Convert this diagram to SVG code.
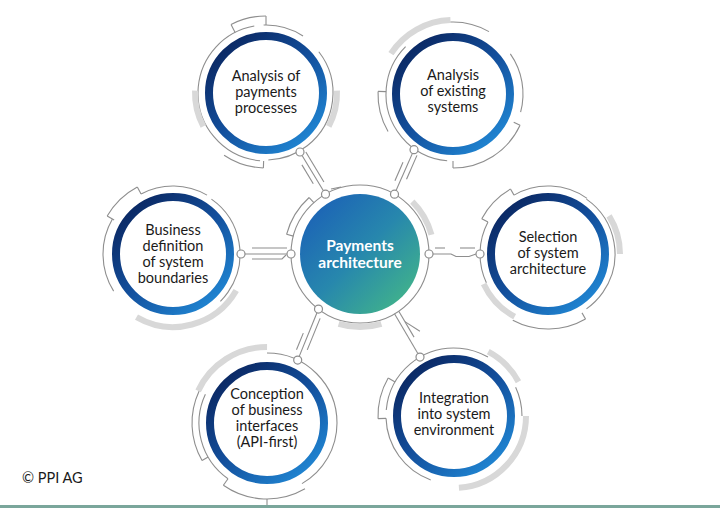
<svg xmlns="http://www.w3.org/2000/svg" width="720" height="508" viewBox="0 0 720 508">
<defs>
<linearGradient id="rg" x1="0.15" y1="0.1" x2="0.85" y2="0.9">
<stop offset="0" stop-color="#0b2a66"/>
<stop offset="0.5" stop-color="#134f9c"/>
<stop offset="1" stop-color="#1f82cf"/>
</linearGradient>
<linearGradient id="cg" x1="0.1" y1="0.1" x2="0.9" y2="0.9">
<stop offset="0" stop-color="#1c63b6"/>
<stop offset="0.5" stop-color="#2787ad"/>
<stop offset="1" stop-color="#41b38b"/>
</linearGradient>
<style>
.thin{fill:none;stroke:#8e8e8e;stroke-width:1.1}
.thick{fill:none;stroke:#d8d8d8;stroke-width:6}
.ring{fill:#fff;stroke:url(#rg);stroke-width:8}
.dot{fill:#fff;stroke:#8e8e8e;stroke-width:1.2}
.ln{fill:none;stroke:#8e8e8e;stroke-width:1.1}
.lbl{font-family:Lato,"Open Sans","Liberation Sans",sans-serif;font-size:14.5px;fill:#1a1a1a;text-anchor:middle}
.ctr{font-family:Lato,"Open Sans","Liberation Sans",sans-serif;font-size:15.5px;font-weight:bold;fill:#fff;text-anchor:middle}
</style>
</defs>
<rect width="720" height="508" fill="#fff"/>

<g id="center" transform="translate(360 254)">
<circle class="thin" r="69"/>
<circle class="thin" r="76" pathLength="360" stroke-dasharray="33 360" transform="rotate(195)"/>
<line class="thin" x1="69" x2="76" transform="rotate(228)"/>
<line class="thin" x1="69" x2="76" transform="rotate(195)"/>
<circle class="thick" r="74" pathLength="360" stroke-dasharray="30 360" transform="rotate(315)"/>
<circle class="thick" r="73" pathLength="360" stroke-dasharray="34 360" transform="rotate(73)"/>
<circle r="60" fill="url(#cg)"/>
<text class="ctr" y="-3">Payments</text>
<text class="ctr" y="14">architecture</text>
</g>

<g id="node1" transform="translate(266 93)">
<circle class="thin" r="68" pathLength="360" stroke-dasharray="165 360" transform="rotate(95)"/>
<circle class="thin" r="68" pathLength="360" stroke-dasharray="35 360" transform="rotate(268)"/>
<circle class="thin" r="67" pathLength="360" stroke-dasharray="126 360" transform="rotate(322)"/>
<circle class="thin" r="77" pathLength="360" stroke-dasharray="27 360" transform="rotate(243)"/>
<line class="thin" x1="68" x2="77" transform="rotate(243)"/>
<line class="thin" x1="68" x2="77" transform="rotate(270)"/>
<circle class="thin" r="75" pathLength="360" stroke-dasharray="32 360" transform="rotate(92)"/>
<line class="thin" x1="68" x2="75" transform="rotate(92)"/>
<circle class="thick" r="71" pathLength="360" stroke-dasharray="30 360" transform="rotate(152)"/>
<circle class="thick" r="71" pathLength="360" stroke-dasharray="30 360" transform="rotate(358)"/>
<circle class="ring" r="57"/>
<text class="lbl" y="-12">Analysis of</text>
<text class="lbl" y="4">payments</text>
<text class="lbl" y="20">processes</text>
</g>

<g id="node2" transform="translate(453 94)">
<circle class="thick" r="74" pathLength="360" stroke-dasharray="55 360" transform="rotate(213)"/>
<circle class="thin" r="72" pathLength="360" stroke-dasharray="32 360" transform="rotate(268)"/>
<circle class="thin" r="70" pathLength="360" stroke-dasharray="50 360" transform="rotate(325)"/>
<circle class="thin" r="74" pathLength="360" stroke-dasharray="65 360" transform="rotate(25)"/>
<line class="thin" x1="67" x2="74" transform="rotate(25)"/>
<line class="thin" x1="67" x2="74" transform="rotate(90)"/>
<circle class="thin" r="67" pathLength="360" stroke-dasharray="130 360" transform="rotate(95)"/>
<circle class="thin" r="75" pathLength="360" stroke-dasharray="32 360" transform="rotate(150)"/>
<line class="thin" x1="67" x2="75" transform="rotate(182)"/>
<circle class="ring" r="57"/>
<text class="lbl" y="-14">Analysis</text>
<text class="lbl" y="2">of existing</text>
<text class="lbl" y="18">systems</text>
</g>

<g id="node3" transform="translate(173 254)">
<circle class="thin" r="76" pathLength="360" stroke-dasharray="32 360" transform="rotate(210)"/>
<line class="thin" x1="68" x2="76" transform="rotate(210)"/>
<line class="thin" x1="68" x2="76" transform="rotate(242)"/>
<circle class="thin" r="68" pathLength="360" stroke-dasharray="58 360" transform="rotate(242)"/>
<circle class="thin" r="67" pathLength="360" stroke-dasharray="100 360" transform="rotate(305)"/>
<circle class="thin" r="70" pathLength="360" stroke-dasharray="62 360" transform="rotate(148)"/>
<circle class="thick" r="73" pathLength="360" stroke-dasharray="90 360" transform="rotate(30)"/>
<circle class="ring" r="57"/>
<text class="lbl" y="-19">Business</text>
<text class="lbl" y="-3">definition</text>
<text class="lbl" y="13">of system</text>
<text class="lbl" y="29">boundaries</text>
</g>

<g id="node4" transform="translate(548 254)">
<circle class="thin" r="75" pathLength="360" stroke-dasharray="32 360" transform="rotate(208)"/>
<line class="thin" x1="68" x2="75" transform="rotate(208)"/>
<line class="thin" x1="68" x2="75" transform="rotate(240)"/>
<circle class="thin" r="68" pathLength="360" stroke-dasharray="65 360" transform="rotate(240)"/>
<circle class="thin" r="67" pathLength="360" stroke-dasharray="110 360" transform="rotate(305)"/>
<circle class="thick" r="72" pathLength="360" stroke-dasharray="32 360" transform="rotate(328)"/>
<circle class="thick" r="71" pathLength="360" stroke-dasharray="37 360" transform="rotate(118)"/>
<circle class="thin" r="75" pathLength="360" stroke-dasharray="58 360" transform="rotate(60)"/>
<line class="thin" x1="68" x2="75" transform="rotate(60)"/>
<circle class="thin" r="68" pathLength="360" stroke-dasharray="53 360" transform="rotate(155)"/>
<circle class="ring" r="57"/>
<text class="lbl" y="-12">Selection</text>
<text class="lbl" y="4">of system</text>
<text class="lbl" y="20">architecture</text>
</g>

<g id="node5" transform="translate(267 423)">
<circle class="thick" r="76" pathLength="360" stroke-dasharray="65 360" transform="rotate(205)"/>
<circle class="thin" r="70" pathLength="360" stroke-dasharray="150 360" transform="rotate(270)"/>
<circle class="thin" r="76" pathLength="360" stroke-dasharray="65 360" transform="rotate(60)"/>
<line class="thin" x1="68" x2="76" transform="rotate(125)"/>
<line class="thin" x1="76" x2="82" transform="rotate(90)"/>
<circle class="thin" r="75" pathLength="360" stroke-dasharray="55 360" transform="rotate(150)"/>
<line class="thin" x1="68" x2="75" transform="rotate(150)"/>
<circle class="thin" r="68" pathLength="360" stroke-dasharray="80 360" transform="rotate(125)"/>
<circle class="ring" r="57"/>
<text class="lbl" y="-24">Conception</text>
<text class="lbl" y="-8">of business</text>
<text class="lbl" y="8">interfaces</text>
<text class="lbl" y="24">(API-first)</text>
</g>

<g id="node6" transform="translate(454 416)">
<circle class="thin" r="68" pathLength="360" stroke-dasharray="115 360" transform="rotate(185)"/>
<circle class="thick" r="73" pathLength="360" stroke-dasharray="34 360" transform="rotate(298)"/>
<circle class="thin" r="68" pathLength="360" stroke-dasharray="25 360" transform="rotate(335)"/>
<circle class="thick" r="72" pathLength="360" stroke-dasharray="86 360" transform="rotate(0)"/>
<circle class="thin" r="76" pathLength="360" stroke-dasharray="32 360" transform="rotate(178)"/>
<line class="thin" x1="68" x2="76" transform="rotate(178)"/>
<line class="thin" x1="68" x2="76" transform="rotate(210)"/>
<circle class="thin" r="68" pathLength="360" stroke-dasharray="68 360" transform="rotate(110)"/>
<circle class="ring" r="57"/>
<text class="lbl" y="-13">Integration</text>
<text class="lbl" y="3">into system</text>
<text class="lbl" y="19">environment</text>
</g>

<g id="connectors">
<g transform="translate(300 152) rotate(58.9)">
<line class="ln" x1="4" y1="0" x2="45.3" y2="0"/>
<line class="ln" x1="3" y1="-5" x2="38" y2="-5"/>
<line class="ln" x1="12" y1="5" x2="34" y2="5"/>
</g>
<line class="ln" x1="331" y1="189" x2="341" y2="187"/>
<g transform="translate(414 149.7) rotate(113.7)">
<line class="ln" x1="4" y1="0" x2="44.6" y2="0"/>
<line class="ln" x1="4" y1="-5" x2="30" y2="-5"/>
<line class="ln" x1="16" y1="5" x2="36" y2="5"/>
</g>
<g transform="translate(241 254)">
<line class="ln" x1="4" y1="0" x2="46" y2="0"/>
<line class="ln" x1="11" y1="-6" x2="46" y2="-6"/>
<polyline class="ln" points="11,5 41,5 45,1"/>
</g>
<g transform="translate(429 254)">
<polyline class="ln" points="4,0 22,0 27,2.5 40,2.5 47,0"/>
<line class="ln" x1="6" y1="-6" x2="16" y2="-6"/>
<line class="ln" x1="31" y1="-6" x2="46" y2="-6"/>
</g>
<g transform="translate(318.5 309.1) rotate(112.2)">
<line class="ln" x1="4" y1="0" x2="51.1" y2="0"/>
<line class="ln" x1="8" y1="-5" x2="42" y2="-5"/>
<line class="ln" x1="28" y1="5" x2="46" y2="5"/>
</g>
<g transform="translate(394.5 313.8) rotate(59.5)">
<line class="ln" x1="0" y1="0" x2="46.3" y2="0"/>
<line class="ln" x1="0" y1="-5" x2="30" y2="-5"/>
<line class="ln" x1="12" y1="-5" x2="28" y2="-13"/>
</g>
<circle class="dot" cx="300" cy="152" r="4"/>
<circle class="dot" cx="325.5" cy="194.2" r="4"/>
<circle class="dot" cx="414" cy="149.7" r="4"/>
<circle class="dot" cx="394.5" cy="194.2" r="4"/>
<circle class="dot" cx="241" cy="254" r="4"/>
<circle class="dot" cx="291" cy="254" r="4"/>
<circle class="dot" cx="429" cy="254" r="4"/>
<circle class="dot" cx="480" cy="254" r="4"/>
<circle class="dot" cx="318.5" cy="309.1" r="4"/>
<circle class="dot" cx="297.7" cy="360.1" r="4"/>
<circle class="dot" cx="420" cy="357.1" r="4"/>
</g>

<text x="22" y="483" font-family="Lato,'Open Sans','Liberation Sans',sans-serif" font-size="14.5" fill="#1a1a1a">© PPI AG</text>
<rect x="0" y="505" width="720" height="3" fill="#7aa69b"/>
</svg>
